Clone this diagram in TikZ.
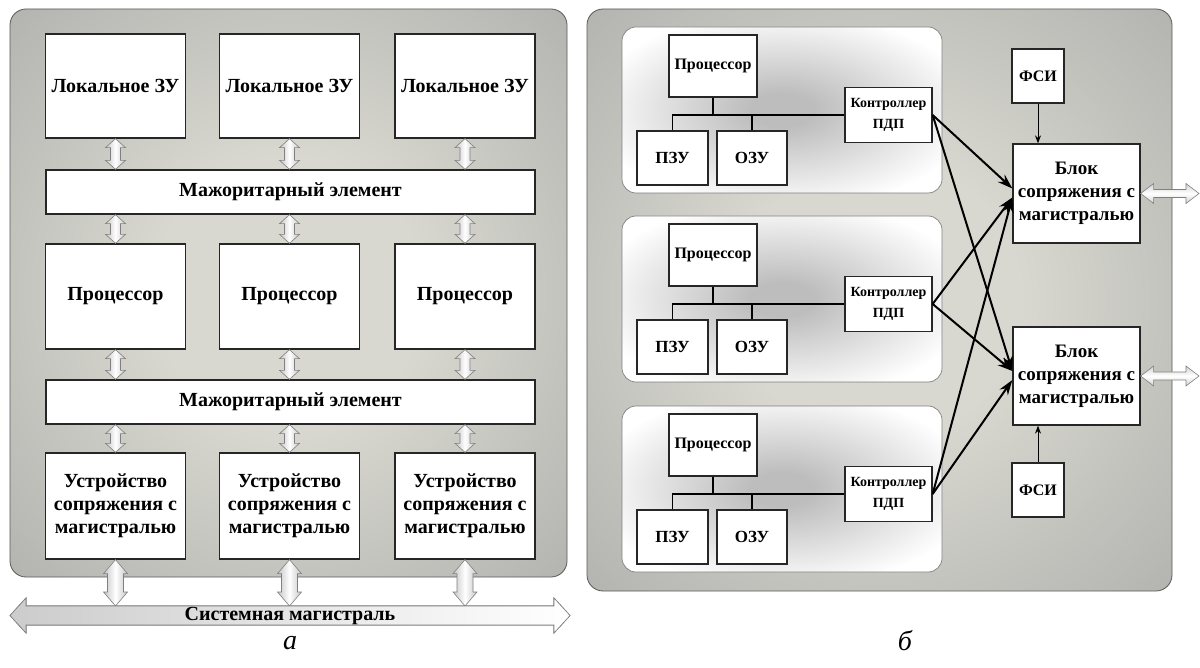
\documentclass[tikz,border=0pt]{standalone}
\usepackage{fontspec}
\setmainfont{Liberation Serif}
\usetikzlibrary{arrows.meta,calc}

\definecolor{pcen}{HTML}{D8D8D0}
\definecolor{pedge}{HTML}{9C9C9C}
\definecolor{subcen}{HTML}{BDBDBD}
\pgfdeclareradialshading{panelshade}{\pgfpoint{0bp}{0bp}}{color(0bp)=(pcen); color(12bp)=(pcen); color(50bp)=(pedge)}
\pgfdeclareradialshading{subshade}{\pgfpoint{0bp}{0bp}}{color(0bp)=(subcen); color(5bp)=(subcen); color(30bp)=(white); color(50bp)=(white)}

% hollow double arrows: #1 upper/left end, #2 lower/right end, #3 half shaft, #4 half head, #5 head length
\newcommand\vdarr[5]{%
  \path[hollow] let \p1=(#1), \p2=(#2) in
    (\x1,\y1) -- (\x1+#4pt,\y1-#5pt) -- (\x1+#3pt,\y1-#5pt) -- (\x1+#3pt,\y2+#5pt)
    -- (\x1+#4pt,\y2+#5pt) -- (\x1,\y2) -- (\x1-#4pt,\y2+#5pt) -- (\x1-#3pt,\y2+#5pt)
    -- (\x1-#3pt,\y1-#5pt) -- (\x1-#4pt,\y1-#5pt) -- cycle;}
\newcommand\hdarr[5]{%
  \path[hollowh] let \p1=(#1), \p2=(#2) in
    (\x1,\y1) -- (\x1+#5pt,\y1+#4pt) -- (\x1+#5pt,\y1+#3pt) -- (\x2-#5pt,\y1+#3pt)
    -- (\x2-#5pt,\y1+#4pt) -- (\x2,\y1) -- (\x2-#5pt,\y1-#4pt) -- (\x2-#5pt,\y1-#3pt)
    -- (\x1+#5pt,\y1-#3pt) -- (\x1+#5pt,\y1-#4pt) -- cycle;}

\begin{document}
\begin{tikzpicture}[x=1pt,y=1pt]
\tikzstyle{box}=[draw=black!85, line width=1.3pt, fill=white, align=center, inner sep=0pt, font=\bfseries\fontsize{20}{23}\selectfont]
\tikzstyle{sbox}=[box, font=\bfseries\fontsize{16}{20}\selectfont]
\tikzstyle{panel}=[shading=panelshade, draw=black!65, line width=0.8pt, rounded corners=16pt]
\tikzstyle{subpanel}=[shading=subshade, draw=black!50, line width=0.7pt, rounded corners=14pt]
\tikzstyle{hollow}=[draw=black!50, line width=0.6pt, left color=gray!45, right color=gray!45, middle color=white]
\tikzstyle{hollowh}=[draw=black!50, line width=0.6pt, top color=gray!35, bottom color=gray!35, middle color=white]
\tikzstyle{busline}=[line width=1.2pt]
\tikzstyle{dma}=[line width=2pt, -{Stealth[length=15pt,width=10pt]}]
\tikzstyle{sync}=[line width=1pt, -{Stealth[length=8pt,width=6pt]}]
\useasboundingbox (0,0) rectangle (1200,-668);

% a
\shadedraw[panel] (10,-9) rectangle (567,-577);
\foreach \i/\x in {1/115.5,2/289.5,3/465}{
  \node[box, minimum width=140pt, minimum height=104pt] (zu\i) at (\x,-86) {Локальное ЗУ};
  \node[box, minimum width=140pt, minimum height=105pt] (cpu\i) at (\x,-296.5) {Процессор};
  \node[box, minimum width=140pt, minimum height=106pt] (usm\i) at (\x,-506) {Устройство\\сопряжения с\\магистралью};
}
\node[box, minimum width=489pt, minimum height=44pt] (maj1) at (290.5,-192) {Мажоритарный элемент};
\node[box, minimum width=489pt, minimum height=44pt] (maj2) at (290.5,-402) {Мажоритарный элемент};
\foreach \i in {1,2,3}{
  \vdarr{zu\i.south}{zu\i.south |- maj1.north}{5}{10}{9}
  \vdarr{cpu\i.north |- maj1.south}{cpu\i.north}{5}{10}{9}
  \vdarr{cpu\i.south}{cpu\i.south |- maj2.north}{5}{10}{9}
  \vdarr{usm\i.north |- maj2.south}{usm\i.north}{5}{10}{9}
}
\coordinate (bustop) at (0,-606);
\foreach \i in {1,2,3}
  \vdarr{usm\i.south}{usm\i.south |- bustop}{8}{12}{14}
\path[draw=black!50, line width=0.6pt, left color=gray!40, right color=white]
  (10,-615.5) -- (26,-598) -- (26,-606) -- (554,-606) -- (554,-598) -- (570,-615.5)
  -- (554,-633) -- (554,-625) -- (26,-625) -- (26,-633) -- cycle;
\node[font=\bfseries\fontsize{20}{22}\selectfont] (bus) at (290,-616) {Системная магистраль};
\node[font=\itshape\fontsize{28}{30}\selectfont] (capa) at (290,-643) {а};

% b
\shadedraw[panel] (587,-9) rectangle (1172,-591);
\foreach \i/\yy in {1/27,2/216,3/406}{
  \shadedraw[subpanel] (622,-\yy) rectangle (942,-\yy-166);
  \node[sbox, minimum width=88pt, minimum height=62pt] (proc\i) at (713,-\yy-39) {Процессор};
  \node[sbox, font=\bfseries\fontsize{14}{21}\selectfont, minimum width=87pt, minimum height=55pt] (ctrl\i) at (888.5,-\yy-88) {Контроллер\\ПДП};
  \node[sbox, font=\bfseries\fontsize{17}{20}\selectfont, minimum width=71pt, minimum height=54pt] (rom\i) at (672.5,-\yy-131) {ПЗУ};
  \node[sbox, font=\bfseries\fontsize{17}{20}\selectfont, minimum width=70pt, minimum height=54pt] (ram\i) at (752,-\yy-131) {ОЗУ};
  \draw[busline] (proc\i.south) -- (proc\i.south |- ctrl\i.west);
  \draw[busline] (rom\i.north) |- (ctrl\i.west);
  \draw[busline] (ram\i.north) -- (ram\i.north |- ctrl\i.west);
}
\node[sbox, font=\bfseries\fontsize{19}{23}\selectfont, minimum width=127pt, minimum height=99pt] (blk1) at (1076.5,-193.5) {Блок\\сопряжения с\\магистралью};
\node[sbox, font=\bfseries\fontsize{19}{23}\selectfont, minimum width=127pt, minimum height=98pt] (blk2) at (1076.5,-376) {Блок\\сопряжения с\\магистралью};
\node[sbox, minimum width=52pt, minimum height=54pt] (fsi1) at (1038,-76) {ФСИ};
\node[sbox, minimum width=52pt, minimum height=54pt] (fsi2) at (1038,-490) {ФСИ};
\draw[sync] (fsi1.south) -- (fsi1.south |- blk1.north);
\draw[sync] (fsi2.north) -- (fsi2.north |- blk2.south);
\draw[dma] (ctrl1.east) -- ([yshift=5pt]blk1.west);
\draw[dma] (ctrl1.east) -- ([yshift=5pt]blk2.west);
\draw[dma] (ctrl2.east) -- ([yshift=-4pt]blk1.west);
\draw[dma] (ctrl2.east) -- ([yshift=5pt]blk2.west);
\draw[dma] (ctrl3.east) -- ([yshift=-4pt]blk1.west);
\draw[dma] (ctrl3.east) -- ([yshift=-4pt]blk2.west);
\coordinate (out1) at (1199,-193.5);
\coordinate (out2) at (1199,-376);
\hdarr{blk1.east}{out1}{4}{10}{13}
\hdarr{blk2.east}{out2}{4}{10}{13}
\node[font=\itshape\fontsize{28}{30}\selectfont] (capb) at (905,-641) {б};
\end{tikzpicture}
\end{document}
